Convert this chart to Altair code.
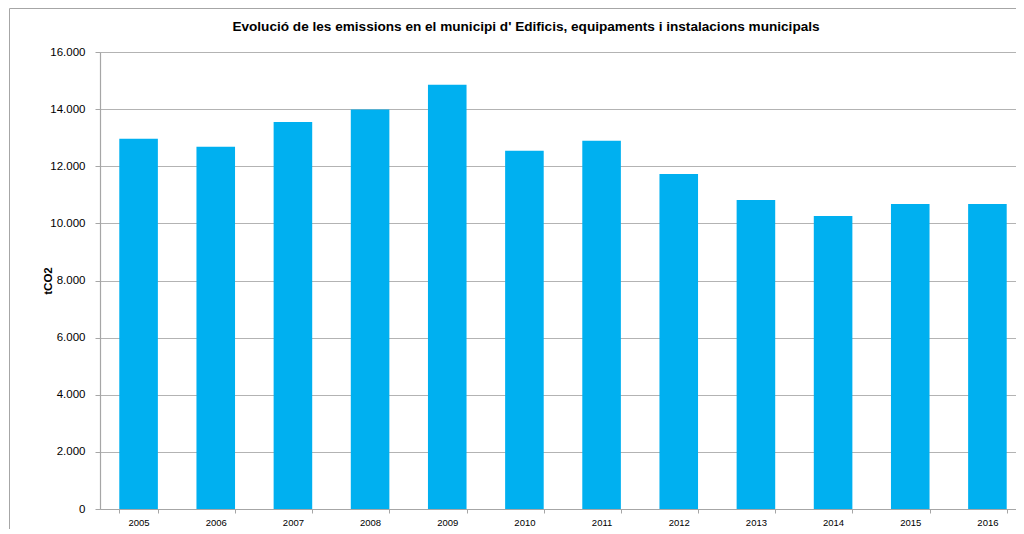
import altair as alt
import pandas as pd

years = ["2005", "2006", "2007", "2008", "2009", "2010", "2011", "2012", "2013", "2014", "2015", "2016"]
emissions = [12960, 12680, 13550, 13990, 14850, 12540, 12890, 11730, 10820, 10260, 10680, 10680]
y_ticks = [0, 2000, 4000, 6000, 8000, 10000, 12000, 14000, 16000]

title_text = "Evolució de les emissions en el municipi d' Edificis, equipaments i instalacions municipals"

df = pd.DataFrame({"year": years, "tCO2": emissions})

PLOT_W = 916
PLOT_H = 457
BAND_RANGE = 926

bars = alt.Chart(df).mark_bar(color="#00B0F0").encode(
    x=alt.X(
        "year:N",
        sort=years,
        scale=alt.Scale(range=[0, BAND_RANGE], paddingInner=0.5, paddingOuter=0.25),
        axis=alt.Axis(
            title=None,
            labelAngle=0,
            labelFont="Liberation Sans",
            labelFontSize=9.5,
            labelColor="#000000",
            labelPadding=4,
            tickBand="extent",
            tickSize=4,
            tickColor="#a6a6a6",
            domainColor="#a6a6a6",
            domainWidth=1.2,
            grid=False,
        ),
    ),
    y=alt.Y(
        "tCO2:Q",
        scale=alt.Scale(domain=[0, 16000], nice=False),
        axis=alt.Axis(
            values=y_ticks,
            title="tCO2",
            titleFont="Liberation Sans",
            titleFontSize=11.5,
            titleFontWeight="bold",
            titleColor="#000000",
            titleX=-47,
            titleY=PLOT_H / 2,
            labelExpr="replace(format(datum.value, ','), ',', '.')",
            labelFont="Liberation Sans",
            labelFontSize=11.5,
            labelColor="#000000",
            labelPadding=10,
            tickSize=5,
            tickColor="#a6a6a6",
            domainColor="#a6a6a6",
            domainWidth=1.2,
            gridColor="#b3b3b3",
            gridWidth=1.2,
        ),
    ),
)

one = pd.DataFrame({"k": [0]})
frame_top = alt.Chart(one).mark_rule(stroke="#a6a6a6", strokeWidth=1).encode(
    x=alt.value(-90.5), x2=alt.value(1000), y=alt.value(-43.5)
)
frame_left = alt.Chart(one).mark_rule(stroke="#a6a6a6", strokeWidth=1).encode(
    x=alt.value(-90.5), y=alt.value(-43.5), y2=alt.value(600)
)

title = alt.Chart(pd.DataFrame({"t": [title_text]})).mark_text(
    font="Liberation Sans",
    fontSize=13.6,
    fontWeight="bold",
    color="#000000",
    align="center",
    baseline="alphabetic",
).encode(text="t:N", x=alt.value(426), y=alt.value(-21.3))

chart = alt.layer(frame_top, frame_left, bars, title).properties(
    width=PLOT_W,
    height=PLOT_H,
    autosize=alt.AutoSizeParams(type="none"),
    padding={"left": 92, "top": 44, "right": 0, "bottom": 20},
).configure_view(stroke=None).configure(background="white")

chart.save("out.html", embed_options={"renderer": "svg", "actions": False})
